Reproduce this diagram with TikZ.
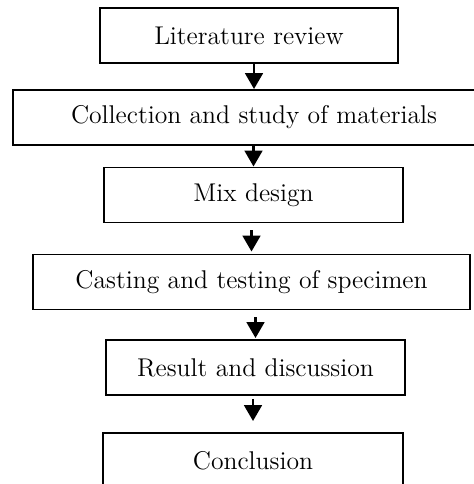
\documentclass[tikz,border=0pt]{standalone}
\usepackage{tikz}
\usetikzlibrary{arrows.meta}
\usetikzlibrary{calc}
\tikzstyle{stagebox}=[rectangle,draw,line width=1.1pt,minimum height=1.1cm,inner sep=0pt,font=\fontsize{14.6}{17}\selectfont]
\tikzstyle{flowarrow}=[-{Triangle[length=9pt,width=10pt]},line width=1.5pt]

\begin{document}
\begin{tikzpicture}

   \useasboundingbox (0,0) rectangle (9.46,9.68);

    \foreach \pos/\boxw/\name/\txt in {{(4.98,8.97)/5.96/lit/Literature review}, {(5.08,7.33)/9.64/coll/Collection and study of materials}, {(5.07,5.78)/5.98/mix/Mix design}, {(5.03,4.04)/8.74/cast/Casting and testing of specimen}, {(5.11,2.33)/5.98/res/Result and discussion}, {(5.06,0.47)/6.0/conc/Conclusion}}
        \node[stagebox,minimum width=\boxw cm] (\name) at \pos {\txt};

    \foreach \source/\dest/\sa/\sb in {lit/coll/0/0, coll/mix/0/0, mix/cast/0.14/0.04, cast/res/0.14/0.02, res/conc/0.06/0.22}
                \draw[flowarrow, shorten <=\sa cm, shorten >=\sb cm] (\source.south -| \dest) -- (\dest.north);

\end{tikzpicture}
\end{document}
